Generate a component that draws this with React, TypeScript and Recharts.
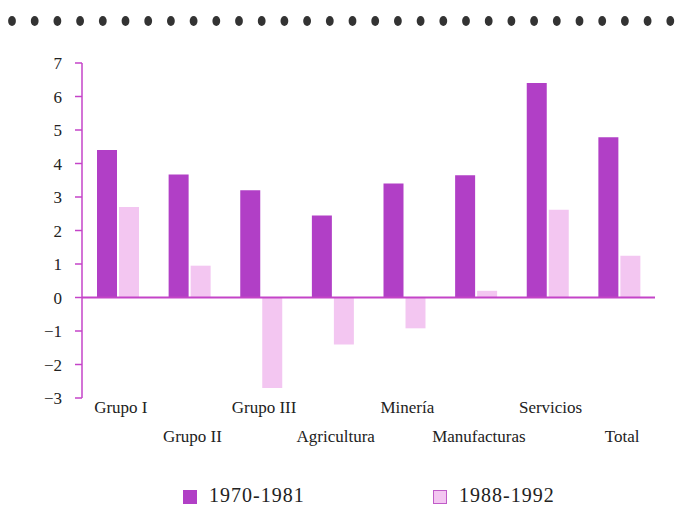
import React from "react";
import { BarChart, Bar, XAxis, YAxis, ReferenceLine } from "recharts";

const categories = [
  "Grupo I",
  "Grupo II",
  "Grupo III",
  "Agricultura",
  "Minería",
  "Manufacturas",
  "Servicios",
  "Total",
];
const period1970 = [4.4, 3.67, 3.2, 2.45, 3.4, 3.65, 6.4, 4.78];
const period1988 = [2.7, 0.95, -2.7, -1.4, -0.92, 0.2, 2.62, 1.25];
const yTicks = [-3, -2, -1, 0, 1, 2, 3, 4, 5, 6, 7];

const data = categories.map((name, i) => ({
  name,
  a: period1970[i],
  b: period1988[i],
}));

const DARK = "#b13fc6";
const LIGHT = "#f3c6f1";
const AXIS = "#c444c8";
const FONT = "'Liberation Serif', 'DejaVu Serif', serif";

function StaggeredTick(props: any) {
  const { x, y, payload, index } = props;
  const low = index % 2 === 1;
  return (
    <text
      x={x + 3}
      y={y + (low ? 36 : 7)}
      textAnchor="middle"
      fontFamily={FONT}
      fontSize={17}
      fill="#222"
    >
      {payload.value}
    </text>
  );
}

function ValueTick(props: any) {
  const { y, payload } = props;
  return (
    <text
      x={62}
      y={y}
      dy={6}
      textAnchor="end"
      fontFamily={FONT}
      fontSize={17}
      fill="#222"
    >
      {String(payload.value).replace("-", "\u2212")}
    </text>
  );
}

function Dots() {
  const dots = [];
  for (let i = 0; i < 30; i++) {
    dots.push(<ellipse key={i} cx={12 + i * 22.7} cy={21} rx={3.9} ry={4.9} fill="#333" />);
  }
  return (
    <svg width={677} height={40} style={{ position: "absolute", left: 0, top: 0 }}>
      {dots}
    </svg>
  );
}

export default function App() {
  return (
    <div
      style={{
        position: "absolute",
        left: 0,
        top: 0,
        width: 677,
        height: 513,
        background: "#fff",
        fontFamily: FONT,
      }}
    >
      <Dots />
      <div style={{ position: "absolute", left: 0, top: 0 }}>
        <BarChart
          width={677}
          height={470}
          data={data}
          margin={{ top: 63, right: 22, left: 0, bottom: 12 }}
          barGap={2}
          barSize={20}
        >
          <XAxis
            dataKey="name"
            axisLine={false}
            tickLine={false}
            height={60}
            interval={0}
            tick={<StaggeredTick />}
          />
          <YAxis
            width={82}
            domain={[-3, 7]}
            ticks={yTicks}
            interval={0}
            axisLine={{ stroke: AXIS, strokeWidth: 1.5 }}
            tickLine={{ stroke: AXIS, strokeWidth: 1.5 }}
            tickSize={7}
            tick={<ValueTick />}
          />
          <Bar dataKey="a" fill={DARK} isAnimationActive={false} />
          <Bar dataKey="b" fill={LIGHT} isAnimationActive={false} />
          <ReferenceLine y={0} stroke={AXIS} strokeWidth={2} />
        </BarChart>
      </div>
      <div
        style={{
          position: "absolute",
          top: 484,
          left: 0,
          width: 677,
          fontSize: 20,
          letterSpacing: 1,
          color: "#222",
          fontFamily: FONT,
        }}
      >
        <div style={{ position: "absolute", left: 183, top: 6, width: 14, height: 14, background: DARK }} />
        <span style={{ position: "absolute", left: 209, top: 0, whiteSpace: "nowrap" }}>1970-1981</span>
        <div
          style={{
            position: "absolute",
            left: 433,
            top: 6,
            width: 12,
            height: 12,
            background: LIGHT,
            border: "1px solid #c05cc8",
          }}
        />
        <span style={{ position: "absolute", left: 459, top: 0, whiteSpace: "nowrap" }}>1988-1992</span>
      </div>
    </div>
  );
}
